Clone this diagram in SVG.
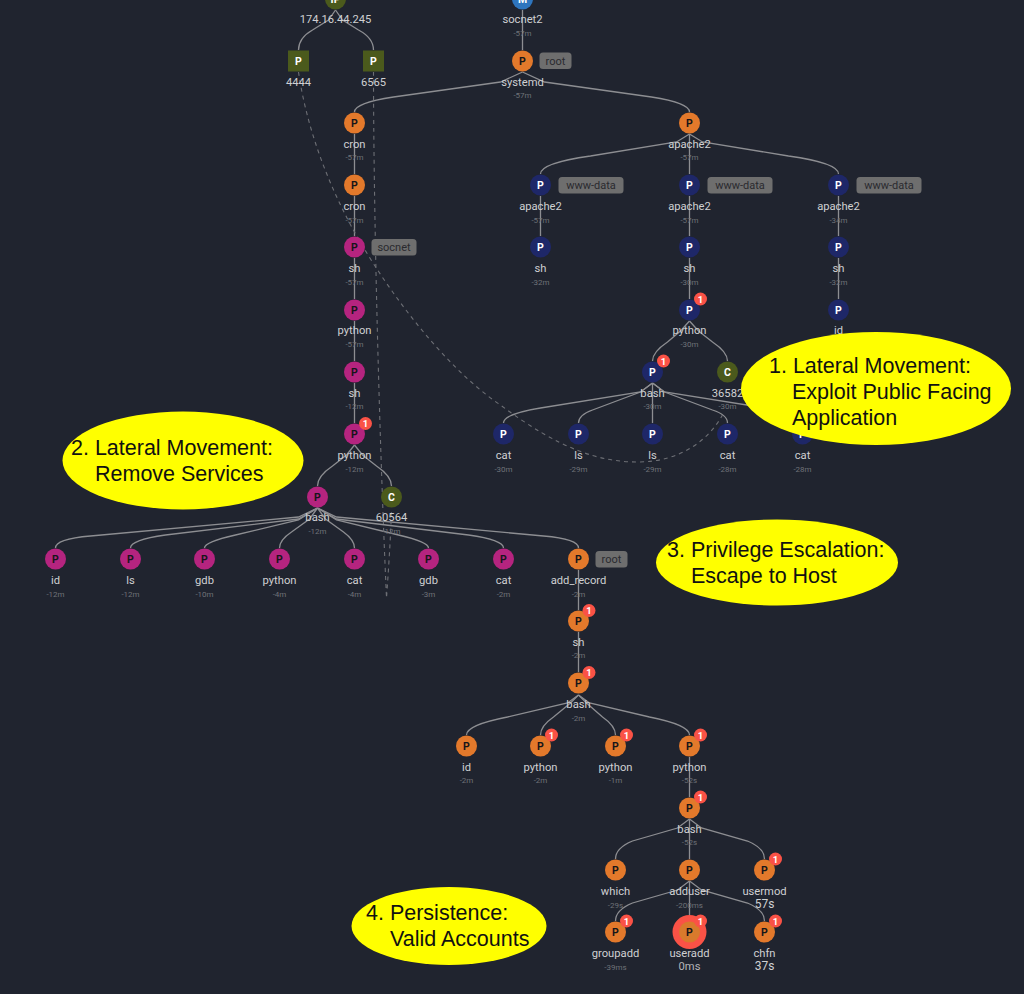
<svg xmlns="http://www.w3.org/2000/svg" width="1024" height="994" viewBox="0 0 1024 994">
<style>
text{font-family:Roboto,"Liberation Sans",sans-serif;text-anchor:middle}
.n{font-size:11.2px;fill:#cfd0d2}
.t{font-size:8px;fill:#6f7278}
.big{font-size:12px;fill:#cfd0d2}
.l{font-size:10.5px;font-weight:700;fill:#fff}
.k{font-size:10.5px;font-weight:700;fill:#15151a}
.o{fill:#e3792b}.b{fill:#1e2768}.m{fill:#b5247f}.g{fill:#4b5a1c}.s{fill:#2e75be}
.r{fill:#fa5246}
.bn{font-size:9.5px;font-weight:700;fill:#fff}
.tag{fill:#6e6e6e}
.tt{font-size:11px;fill:#2a2a2e}
.e{fill:none;stroke:#8d8e92;stroke-width:1.3}
.d{fill:none;stroke:#6d6f75;stroke-width:1.1;stroke-dasharray:4 4}
.y{fill:#ffff00}
.c{font-family:"Liberation Sans",Arial,sans-serif;font-size:21.5px;fill:#111;text-anchor:start}
</style>
<rect width="1024" height="994" fill="#20242f"/>
<g transform="translate(.5 0)">
<g id="connectors">
<path class="e" d="M335,10L328,20L312,30Q298,38 298,50"/>
<path class="e" d="M335,10L342,20L358,30Q373,38 373,50"/>
<path class="e" d="M522,10V50"/>
<path class="e" d="M522,72L500,82L393,97Q354,103 354,112"/>
<path class="e" d="M522,72L544,82L651,97Q689,103 689,112"/>
<path class="e" d="M354,134V174M354,196V236M354,258V299M354,321V361M354,383V423"/>
<path class="e" d="M354,445L346,455L332,466Q317,476 317,486"/>
<path class="e" d="M354,445L362,455L376,466Q391,476 391,486"/>
<path class="e" d="M689,134L676,142L590,156Q540,163 540,174"/>
<path class="e" d="M689,134L702,142L788,156Q838,163 838,174"/>
<path class="e" d="M689,134V174M540,196V236M689,196V236M838,196V236M689,258V299M838,258V299"/>
<path class="e" d="M689,321L680,331L667,342Q652,352 652,361"/>
<path class="e" d="M689,321L698,331L712,342Q727,352 727,361"/>
<path class="e" d="M652,383L640,392L540,408Q503,414 503,423"/>
<path class="e" d="M652,383L640,392L592,410Q578,415 578,423"/>
<path class="e" d="M652,383V423"/>
<path class="e" d="M652,383L664,392L712,410Q727,415 727,423"/>
<path class="e" d="M652,383L664,392L765,408Q802,414 802,423"/>
<path class="e" d="M317,508L298,517L90,536Q55,539 55,548"/>
<path class="e" d="M317,508L298,519L165,535Q130,540 130,548"/>
<path class="e" d="M317,508L298,520L235,535Q204,542 204,548"/>
<path class="e" d="M317,508L309,519L291,532Q279,540 279,548"/>
<path class="e" d="M317,508L325,519L343,532Q354,540 354,548"/>
<path class="e" d="M317,508L336,520L398,535Q428,542 428,548"/>
<path class="e" d="M317,508L336,519L468,535Q503,540 503,548"/>
<path class="e" d="M317,508L336,517L543,536Q578,539 578,548"/>
<path class="e" d="M578,570V610M578,632V672"/>
<path class="e" d="M578,695L567,703L507,717Q466,725 466,735"/>
<path class="e" d="M578,695L570,703L553,717Q540,726 540,735"/>
<path class="e" d="M578,695L586,703L602,717Q615,726 615,735"/>
<path class="e" d="M578,695L589,703L649,717Q689,725 689,735"/>
<path class="e" d="M689,757V797"/>
<path class="e" d="M689,819L677,828L632,841Q615,848 615,859"/>
<path class="e" d="M689,819V859"/>
<path class="e" d="M689,819L701,828L747,841Q764,848 764,859"/>
<path class="e" d="M689,881L677,890L632,903Q615,910 615,921"/>
<path class="e" d="M689,881V915"/>
<path class="e" d="M689,881L701,890L747,903Q764,910 764,921"/>
<path class="d" d="M298,72C305,120 322,170 345,215C375,275 440,365 500,405C560,450 600,462 637,462C680,462 708,440 722,415"/>
<path class="d" d="M373,72C373,200 378,420 386,598C388,570 390,540 391,510"/>
</g>
<g id="ip"><circle class="g" cx="335" cy="-1" r="10.5"/><text class="l" x="335" y="3">IP</text><text class="n" x="335" y="23">174.16.44.245</text></g>
<g id="socnet2"><circle class="s" cx="522" cy="-1" r="10.5"/><text class="l" x="522" y="3">M</text><text class="n" x="522" y="23">socnet2</text><text class="t" x="522" y="36">-57m</text></g>
<g id="port4444"><rect class="g" x="287.500" y="50.500" width="21" height="21"/><text class="l" x="298" y="65">P</text><text class="n" x="298" y="86">4444</text></g>
<g id="port6565"><rect class="g" x="362.500" y="50.500" width="21" height="21"/><text class="l" x="373" y="65">P</text><text class="n" x="373" y="86">6565</text></g>
<g id="systemd"><circle class="o" cx="522" cy="61" r="10.500"/><text class="k" x="522" y="65">P</text><text class="n" x="522" y="86">systemd</text><text class="t" x="522" y="98">-57m</text><rect class="tag" x="539" y="52.500" width="32" height="16.500" rx="3.500"/><text class="tt" x="555" y="65">root</text></g>
<g id="cron1"><circle class="o" cx="354" cy="123" r="10.500"/><text class="k" x="354" y="127">P</text><text class="n" x="354" y="148">cron</text><text class="t" x="354" y="160">-57m</text></g>
<g id="cron2"><circle class="o" cx="354" cy="185" r="10.500"/><text class="k" x="354" y="189">P</text><text class="n" x="354" y="210">cron</text><text class="t" x="354" y="223">-57m</text></g>
<g id="sh1"><circle class="m" cx="354" cy="247" r="10.500"/><text class="k" x="354" y="251">P</text><text class="n" x="354" y="272">sh</text><text class="t" x="354" y="285">-57m</text><rect class="tag" x="371" y="239" width="45" height="16.500" rx="3.500"/><text class="tt" x="393.500" y="251">socnet</text></g>
<g id="python1"><circle class="m" cx="354" cy="310" r="10.500"/><text class="k" x="354" y="314">P</text><text class="n" x="354" y="334">python</text><text class="t" x="354" y="347">-57m</text></g>
<g id="sh2"><circle class="m" cx="354" cy="372" r="10.500"/><text class="k" x="354" y="376">P</text><text class="n" x="354" y="397">sh</text><text class="t" x="354" y="409">-12m</text></g>
<g id="python2"><circle class="m" cx="354" cy="434" r="10.500"/><text class="k" x="354" y="438">P</text><text class="n" x="354" y="459">python</text><text class="t" x="354" y="472">-12m</text><circle class="r" cx="365" cy="423.500" r="6.500"/><text class="bn" x="365" y="427">1</text></g>
<g id="bash1"><circle class="m" cx="317" cy="497" r="10.500"/><text class="k" x="317" y="501">P</text><text class="n" x="317" y="521">bash</text><text class="t" x="317" y="534">-12m</text></g>
<g id="c60564"><circle class="g" cx="391" cy="497" r="10.500"/><text class="l" x="391" y="501">C</text><text class="n" x="391" y="521">60564</text><text class="t" x="391" y="534">-12m</text></g>
<g id="id1"><circle class="m" cx="55" cy="559" r="10.500"/><text class="k" x="55" y="563">P</text><text class="n" x="55" y="584">id</text><text class="t" x="55" y="597">-12m</text></g>
<g id="ls1"><circle class="m" cx="130" cy="559" r="10.500"/><text class="k" x="130" y="563">P</text><text class="n" x="130" y="584">ls</text><text class="t" x="130" y="597">-12m</text></g>
<g id="gdb1"><circle class="m" cx="204" cy="559" r="10.500"/><text class="k" x="204" y="563">P</text><text class="n" x="204" y="584">gdb</text><text class="t" x="204" y="597">-10m</text></g>
<g id="python3"><circle class="m" cx="279" cy="559" r="10.500"/><text class="k" x="279" y="563">P</text><text class="n" x="279" y="584">python</text><text class="t" x="279" y="597">-4m</text></g>
<g id="cat1"><circle class="m" cx="354" cy="559" r="10.500"/><text class="k" x="354" y="563">P</text><text class="n" x="354" y="584">cat</text><text class="t" x="354" y="597">-4m</text></g>
<g id="gdb2"><circle class="m" cx="428" cy="559" r="10.500"/><text class="k" x="428" y="563">P</text><text class="n" x="428" y="584">gdb</text><text class="t" x="428" y="597">-3m</text></g>
<g id="cat2"><circle class="m" cx="503" cy="559" r="10.500"/><text class="k" x="503" y="563">P</text><text class="n" x="503" y="584">cat</text><text class="t" x="503" y="597">-2m</text></g>
<g id="add_record"><circle class="o" cx="578" cy="559" r="10.500"/><text class="k" x="578" y="563">P</text><text class="n" x="578" y="584">add_record</text><text class="t" x="578" y="597">-2m</text><rect class="tag" x="595" y="551" width="32" height="16.500" rx="3.500"/><text class="tt" x="611" y="563">root</text></g>
<g id="sh3"><circle class="o" cx="578" cy="621" r="10.500"/><text class="k" x="578" y="625">P</text><text class="n" x="578" y="646">sh</text><text class="t" x="578" y="658">-2m</text><circle class="r" cx="588.500" cy="610.500" r="6.500"/><text class="bn" x="588.500" y="614">1</text></g>
<g id="bash2"><circle class="o" cx="578" cy="683" r="10.500"/><text class="k" x="578" y="687">P</text><text class="n" x="578" y="708">bash</text><text class="t" x="578" y="721">-2m</text><circle class="r" cx="588.500" cy="672.500" r="6.500"/><text class="bn" x="588.500" y="676">1</text></g>
<g id="id2"><circle class="o" cx="466" cy="746" r="10.500"/><text class="k" x="466" y="750">P</text><text class="n" x="466" y="771">id</text><text class="t" x="466" y="783">-2m</text></g>
<g id="python4"><circle class="o" cx="540" cy="746" r="10.500"/><text class="k" x="540" y="750">P</text><text class="n" x="540" y="771">python</text><text class="t" x="540" y="783">-2m</text><circle class="r" cx="551" cy="735" r="6.500"/><text class="bn" x="551" y="738.500">1</text></g>
<g id="python5"><circle class="o" cx="615" cy="746" r="10.500"/><text class="k" x="615" y="750">P</text><text class="n" x="615" y="771">python</text><text class="t" x="615" y="783">-1m</text><circle class="r" cx="626" cy="735" r="6.500"/><text class="bn" x="626" y="738.500">1</text></g>
<g id="python6"><circle class="o" cx="689" cy="746" r="10.500"/><text class="k" x="689" y="750">P</text><text class="n" x="689" y="771">python</text><text class="t" x="689" y="783">-52s</text><circle class="r" cx="700" cy="735" r="6.500"/><text class="bn" x="700" y="738.500">1</text></g>
<g id="bash3"><circle class="o" cx="689" cy="808" r="10.500"/><text class="k" x="689" y="812">P</text><text class="n" x="689" y="833">bash</text><text class="t" x="689" y="845">-52s</text><circle class="r" cx="700" cy="797" r="6.500"/><text class="bn" x="700" y="800.500">1</text></g>
<g id="which"><circle class="o" cx="615" cy="870" r="10.500"/><text class="k" x="615" y="874">P</text><text class="n" x="615" y="895">which</text><text class="t" x="615" y="908">-29s</text></g>
<g id="adduser"><circle class="o" cx="689" cy="870" r="10.500"/><text class="k" x="689" y="874">P</text><text class="n" x="689" y="895">adduser</text><text class="t" x="689" y="908">-200ms</text></g>
<g id="usermod"><circle class="o" cx="764" cy="870" r="10.500"/><text class="k" x="764" y="874">P</text><text class="n" x="764" y="895">usermod</text><text class="big" x="764" y="908">57s</text><circle class="r" cx="775" cy="859" r="6.500"/><text class="bn" x="775" y="862.500">1</text></g>
<g id="groupadd"><circle class="o" cx="615" cy="932" r="10.500"/><text class="k" x="615" y="936">P</text><text class="n" x="615" y="957">groupadd</text><text class="t" x="615" y="970">-39ms</text><circle class="r" cx="626" cy="921" r="6.500"/><text class="bn" x="626" y="924.500">1</text></g>
<g id="useradd"><circle class="r" cx="689" cy="932" r="17"/><circle cx="689" cy="932" r="10.500" fill="#d97a2c"/><text class="k" x="689" y="936">P</text><text class="n" x="689" y="957">useradd</text><text class="n" x="689" y="970" style="fill:#b5b5b8">0ms</text><circle class="r" cx="700" cy="921" r="6.500"/><text class="bn" x="700" y="924.500">1</text></g>
<g id="chfn"><circle class="o" cx="764" cy="932" r="10.500"/><text class="k" x="764" y="936">P</text><text class="n" x="764" y="957">chfn</text><text class="big" x="764" y="970">37s</text><circle class="r" cx="775" cy="921" r="6.500"/><text class="bn" x="775" y="924.500">1</text></g>
<g id="apache1"><circle class="o" cx="689" cy="123" r="10.500"/><text class="k" x="689" y="127">P</text><text class="n" x="689" y="148">apache2</text><text class="t" x="689" y="160">-57m</text></g>
<g id="apache2"><circle class="b" cx="540" cy="185" r="10.500"/><text class="l" x="540" y="189">P</text><text class="n" x="540" y="210">apache2</text><text class="t" x="540" y="223">-57m</text><rect class="tag" x="558" y="177" width="65" height="16.500" rx="3.500"/><text class="tt" x="590.500" y="189">www-data</text></g>
<g id="apache3"><circle class="b" cx="689" cy="185" r="10.500"/><text class="l" x="689" y="189">P</text><text class="n" x="689" y="210">apache2</text><text class="t" x="689" y="223">-57m</text><rect class="tag" x="707" y="177" width="65" height="16.500" rx="3.500"/><text class="tt" x="739.500" y="189">www-data</text></g>
<g id="apache4"><circle class="b" cx="838" cy="185" r="10.500"/><text class="l" x="838" y="189">P</text><text class="n" x="838" y="210">apache2</text><text class="t" x="838" y="223">-34m</text><rect class="tag" x="856" y="177" width="65" height="16.500" rx="3.500"/><text class="tt" x="888.500" y="189">www-data</text></g>
<g id="sh4"><circle class="b" cx="540" cy="247" r="10.500"/><text class="l" x="540" y="251">P</text><text class="n" x="540" y="272">sh</text><text class="t" x="540" y="285">-32m</text></g>
<g id="sh5"><circle class="b" cx="689" cy="247" r="10.500"/><text class="l" x="689" y="251">P</text><text class="n" x="689" y="272">sh</text><text class="t" x="689" y="285">-30m</text></g>
<g id="sh6"><circle class="b" cx="838" cy="247" r="10.500"/><text class="l" x="838" y="251">P</text><text class="n" x="838" y="272">sh</text><text class="t" x="838" y="285">-32m</text></g>
<g id="python7"><circle class="b" cx="689" cy="310" r="10.500"/><text class="l" x="689" y="314">P</text><text class="n" x="689" y="334">python</text><text class="t" x="689" y="347">-30m</text><circle class="r" cx="700" cy="299" r="6.500"/><text class="bn" x="700" y="302.500">1</text></g>
<g id="id3"><circle class="b" cx="838" cy="310" r="10.500"/><text class="l" x="838" y="314">P</text><text class="n" x="838" y="334">id</text></g>
<g id="bash4"><circle class="b" cx="652" cy="372" r="10.500"/><text class="l" x="652" y="376">P</text><text class="n" x="652" y="397">bash</text><text class="t" x="652" y="409">-30m</text><circle class="r" cx="663" cy="361" r="6.500"/><text class="bn" x="663" y="364.500">1</text></g>
<g id="c36582"><circle class="g" cx="727" cy="372" r="10.500"/><text class="l" x="727" y="376">C</text><text class="n" x="727" y="397">36582</text><text class="t" x="727" y="409">-30m</text></g>
<g id="cat3"><circle class="b" cx="503" cy="434" r="10.500"/><text class="l" x="503" y="438">P</text><text class="n" x="503" y="459">cat</text><text class="t" x="503" y="472">-30m</text></g>
<g id="ls2"><circle class="b" cx="578" cy="434" r="10.500"/><text class="l" x="578" y="438">P</text><text class="n" x="578" y="459">ls</text><text class="t" x="578" y="472">-29m</text></g>
<g id="ls3"><circle class="b" cx="652" cy="434" r="10.500"/><text class="l" x="652" y="438">P</text><text class="n" x="652" y="459">ls</text><text class="t" x="652" y="472">-29m</text></g>
<g id="cat4"><circle class="b" cx="727" cy="434" r="10.500"/><text class="l" x="727" y="438">P</text><text class="n" x="727" y="459">cat</text><text class="t" x="727" y="472">-28m</text></g>
<g id="cat5"><circle class="b" cx="802" cy="434" r="10.500"/><text class="l" x="802" y="438">P</text><text class="n" x="802" y="459">cat</text><text class="t" x="802" y="472">-28m</text></g>
</g>
<g id="callout1"><ellipse class="y" cx="876" cy="388.500" rx="135" ry="56.500"/><text class="c" x="769" y="373">1. Lateral Movement:</text><text class="c" x="792" y="399">Exploit Public Facing</text><text class="c" x="792" y="425">Application</text></g>
<g id="callout2"><ellipse class="y" cx="183" cy="460.500" rx="120.500" ry="49"/><text class="c" x="71" y="455">2. Lateral Movement:</text><text class="c" x="95" y="481">Remove Services</text></g>
<g id="callout3"><ellipse class="y" cx="777" cy="562.500" rx="121" ry="43"/><text class="c" x="667" y="557">3. Privilege Escalation:</text><text class="c" x="691" y="583">Escape to Host</text></g>
<g id="callout4"><ellipse class="y" cx="449" cy="926" rx="97.500" ry="39"/><text class="c" x="366" y="920">4. Persistence:</text><text class="c" x="390" y="946">Valid Accounts</text></g>
</svg>
